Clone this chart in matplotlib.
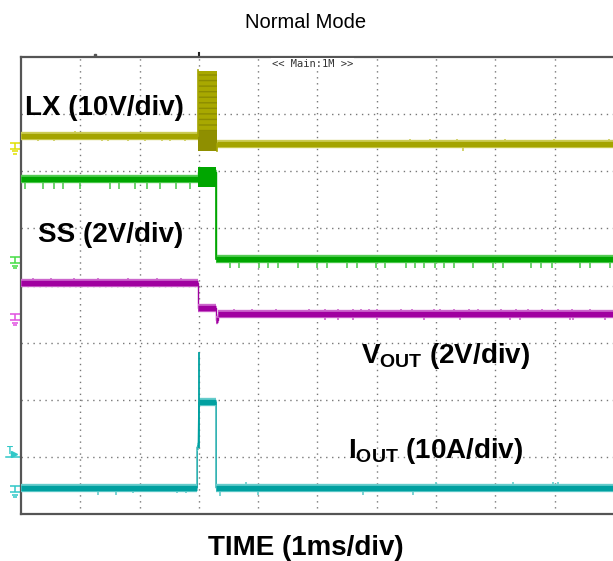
import matplotlib
matplotlib.use('Agg')
import matplotlib.pyplot as plt

plt.rcParams['font.family'] = ['Liberation Sans', 'DejaVu Sans']
plt.rcParams['mathtext.fontset'] = 'custom'
plt.rcParams['mathtext.bf'] = 'Liberation Sans:bold'
plt.rcParams['mathtext.rm'] = 'Liberation Sans'

# time in ms (1 ms/div), levels in screen divisions (0 = bottom of graticule)
lx_start = [0.0, 3.30]
lx_end = [2.99, 10.0]
lx_level = [6.61, 6.48]
lx_burst = [2.99, 3.30, 6.35, 7.75]
lx_glitch_t = [0.29, 0.56, 0.91, 1.37, 1.47, 1.81, 2.09, 2.38, 2.51, 2.76,
               6.56, 6.89, 7.35, 7.45, 8.16, 8.99, 9.92]
lx_glitch_h = [-0.08, -0.08, 0.1, -0.08, -0.08, -0.08, -0.08, -0.08, -0.08, -0.08,
               0.08, 0.08, 0.08, -0.12, 0.08, 0.08, 0.08]

ss_start = [0.0, 2.99, 3.29]
ss_end = [2.99, 3.29, 10.0]
ss_level = [5.86, 5.98, 4.47]
ss_glitch_t = [0.07, 0.37, 0.56, 0.71, 0.99, 1.50, 1.65, 1.92, 2.12, 2.34, 2.61, 2.85,
               3.52, 3.68, 4.01, 4.17, 4.33, 4.67, 4.99, 5.16, 5.50, 5.67, 5.99,
               6.14, 6.49, 6.64, 6.80, 6.98, 7.13, 7.30, 7.62, 7.96, 8.13, 8.60,
               8.77, 8.95, 9.43, 9.60, 9.93]
ss_glitch_h = [-0.17] * 39

vout_start = [0.0, 2.99, 3.28, 3.33]
vout_end = [2.99, 3.28, 3.33, 10.0]
vout_level = [4.05, 3.60, 3.40, 3.50]
vout_glitch_t = [0.2, 0.5, 0.9, 1.3, 1.8, 2.3, 2.7, 3.6, 3.9, 4.3, 4.85, 5.13,
                 5.34, 5.6, 5.73, 5.87, 6.0, 6.4, 6.6, 6.96, 7.07, 7.3, 7.55, 7.7,
                 8.1, 8.35, 8.55, 8.78, 9.05, 9.3, 9.6,
                 5.13, 5.35, 5.6, 6.0, 6.8, 7.4, 8.25, 8.42, 9.26, 9.31, 9.85]
vout_glitch_h = [0.09] * 31 + [-0.1] * 11

iout_start = [0.0, 2.97, 3.0, 3.29]
iout_end = [2.97, 2.99, 3.29, 10.0]
iout_level = [0.46, 1.17, 1.96, 0.46]
iout_spike = [2.995, 2.82]
iout_glitch_t = [1.30, 1.60, 1.89, 2.63, 2.78, 3.36, 3.79, 3.99, 5.77, 6.61, 7.0, 8.30, 8.97, 9.06]
iout_glitch_h = [-0.12, -0.12, -0.1, -0.1, -0.1, -0.15, 0.1, -0.12, -0.12, -0.12, 0.1, 0.1, 0.1, 0.1]

ground_level = [6.50, 4.50, 3.50, 0.49]
trigger_level = 1.0

channels = [
    (lx_start, lx_end, lx_level, lx_glitch_t, lx_glitch_h, '#cccc55', '#a4a400'),
    (ss_start, ss_end, ss_level, ss_glitch_t, ss_glitch_h, '#55cc55', '#00a600'),
    (vout_start, vout_end, vout_level, vout_glitch_t, vout_glitch_h, '#cc66cc', '#a000a0'),
    (iout_start, iout_end, iout_level, iout_glitch_t, iout_glitch_h, '#66cccc', '#00a0a0'),
]
marker_colors = ['#e0e000', '#44dd44', '#e050e0', '#30c8c8']

fig = plt.figure(figsize=(6.13, 5.61), dpi=100)
ax = fig.add_axes([21 / 613, 47 / 561, 593 / 613, 457 / 561])
ax.set_xlim(0, 10)
ax.set_ylim(0, 8)
ax.set_xticks([])
ax.set_yticks([])
for side in ['left', 'top', 'bottom']:
    ax.spines[side].set_color('#555555')
    ax.spines[side].set_linewidth(1.6)
ax.spines['right'].set_visible(False)

# dotted graticule
for gx in range(1, 10):
    ax.axvline(gx, color='#777777', lw=1.0, ls=(0, (1, 3.3)), zorder=1)
for gy in range(1, 8):
    ax.axhline(gy, color='#777777', lw=1.0, ls=(0, (1, 3.3)), zorder=1)

for start, end, level, gt, gh, light, core in channels:
    # thin trace through the edges
    tt, yy = [], []
    for s, e, v in zip(start, end, level):
        tt += [s, e]
        yy += [v, v]
    ax.plot(tt, yy, color=core, lw=1.0, zorder=3)
    ax.hlines(level, start, end, colors=light, lw=6, zorder=3, capstyle='butt')
    ax.hlines(level, start, end, colors=core, lw=3.8, zorder=4, capstyle='butt')
    base = [level[0] if t < start[-1] and len(start) > 1 and t < end[0] else level[-1] for t in gt]
    ax.vlines(gt, [b + (0.05 if h > 0 else -0.05) for b, h in zip(base, gh)],
              [b + h for b, h in zip(base, gh)], colors=light, lw=1.2, zorder=3)

# LX switching burst
bx0, bx1, by0, by1 = lx_burst
ax.fill_between([bx0, bx1], by0, by1, color='#a8a800', hatch='---', edgecolor='#8c8c00',
                lw=0, zorder=4)
ax.fill_between([bx0, bx1], by0, by0 + 0.35, color='#8f8f00', lw=0, zorder=4)
ax.plot([bx0, bx0], [lx_level[0], by1 + 0.03], color='#a4a400', lw=1.2, zorder=4)
ax.plot([bx1, bx1], [by0, lx_level[1]], color='#a4a400', lw=1.2, zorder=4)

# SS bump during switching
ax.fill_between([ss_start[1], ss_end[1]], 5.72, 6.08, color='#00a600', lw=0, zorder=4)
ax.plot([ss_end[1], ss_end[1]], [5.86, ss_level[2]], color='#00a600', lw=1.2, zorder=4)

# IOUT spike at turn-on
ax.plot([iout_spike[0], iout_spike[0]], [1.17, iout_spike[1]], color='#00a0a0', lw=1.3, zorder=4)

# ground reference markers left of the screen
px = 10 / 593
py = 8 / 457
for lvl, col in zip(ground_level, marker_colors):
    kw = dict(color=col, lw=1.1, clip_on=False, solid_capstyle='butt')
    ax.plot([-11 * px, 0], [lvl, lvl], **kw)
    ax.plot([-6 * px, -6 * px], [lvl, lvl - 6 * py], **kw)
    ax.plot([-11 * px, -1 * px], [lvl - 6 * py] * 2, **kw)
    ax.plot([-9 * px, -3 * px], [lvl - 8.7 * py] * 2, **kw)
    ax.plot([-7.7 * px, -4.3 * px], [lvl - 11 * py] * 2, **kw)

# trigger level marker
ax.plot([-15 * px, 0], [trigger_level, trigger_level], color='#30c8c8', lw=1.1, clip_on=False)
ax.plot([-7 * px], [trigger_level + 3 * py], marker='>', ms=5, color='#30c8c8', clip_on=False)
ax.text(-11 * px, trigger_level + 1 * py, 'T', color='#30c8c8', fontsize=7,
        fontweight='bold', ha='center', va='bottom', clip_on=False)

# trigger position marks on top edge
ax.plot([3.0, 3.0], [8.0, 8.0 + 4 * py], color='#222222', lw=1.5, clip_on=False)
ax.plot([1.25], [8.0 + 2 * py], marker='s', ms=1.5, color='#555555', clip_on=False)

ax.text(4.92, 7.88, '<< Main:1M >>', family='DejaVu Sans Mono', fontsize=7.5,
        color='#333333', ha='center', va='center', zorder=5,
        bbox=dict(facecolor='white', edgecolor='none', pad=0.5))

# channel labels
ax.text(0.07, 6.98, 'LX (10V/div)', fontsize=20, fontweight='bold', va='baseline', zorder=6)
ax.text(0.29, 4.77, 'SS (2V/div)', fontsize=20, fontweight='bold', va='baseline', zorder=6)
ax.text(5.74, 2.65, r'$\mathbf{V_{OUT}}$ (2V/div)', fontsize=20, fontweight='bold',
        va='baseline', zorder=6)
ax.text(5.51, 0.98, r'$\mathbf{I_{OUT}}$ (10A/div)', fontsize=20, fontweight='bold',
        va='baseline', zorder=6)

fig.text(306 / 613, 1 - 22 / 561, 'Normal Mode', fontsize=14.5, ha='center', va='center')
fig.text(306 / 613, 1 - 548 / 561, 'TIME (1ms/div)', fontsize=20, fontweight='bold',
         ha='center', va='center')

fig.savefig('out.png', dpi=100)
